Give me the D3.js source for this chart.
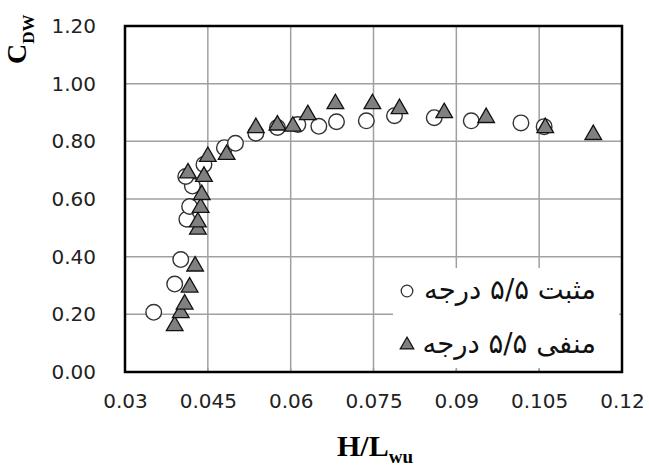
<!DOCTYPE html>
<html><head><meta charset="utf-8">
<script src="https://cdn.jsdelivr.net/npm/d3@7"></script>
<style>body{margin:0;background:#fff}svg{display:block}</style>
</head><body><svg id="c" width="649" height="466"></svg>
<script>
// ---- data ----
const xTicks = [0.03, 0.045, 0.06, 0.075, 0.09, 0.105, 0.12];
const xTickLabels = ["0.03", "0.045", "0.06", "0.075", "0.09", "0.105", "0.12"];
const yTicks = [0, 0.2, 0.4, 0.6, 0.8, 1.0, 1.2];
const yTickLabels = ["0.00", "0.20", "0.40", "0.60", "0.80", "1.00", "1.20"];

const posX = [0.0352, 0.0390, 0.0401, 0.0412, 0.0417, 0.0422, 0.0410, 0.0443, 0.0480, 0.0500, 0.0537, 0.0576, 0.0613, 0.0651, 0.0683, 0.0737, 0.0788, 0.0860, 0.0927, 0.1017, 0.1059];
const posY = [0.207, 0.305, 0.390, 0.530, 0.574, 0.645, 0.678, 0.720, 0.778, 0.793, 0.828, 0.848, 0.858, 0.852, 0.868, 0.871, 0.889, 0.882, 0.871, 0.864, 0.851];

const negX = [0.0390, 0.0401, 0.0408, 0.0417, 0.0427, 0.0432, 0.0432, 0.0437, 0.0439, 0.0443, 0.0414, 0.0450, 0.0484, 0.0537, 0.0576, 0.0604, 0.0631, 0.0681, 0.0748, 0.0797, 0.0878, 0.0954, 0.1061, 0.1148];
const negY = [0.160, 0.205, 0.235, 0.294, 0.367, 0.495, 0.520, 0.570, 0.615, 0.678, 0.690, 0.747, 0.754, 0.847, 0.856, 0.852, 0.892, 0.930, 0.930, 0.913, 0.899, 0.882, 0.847, 0.823];

const legendLabels = ["مثبت ۵/۵ درجه", "منفی ۵/۵ درجه"];

// ---- layout ----
const L = 125, R = 622, T = 26, B = 372;
const svg = d3.select("#c");
const x = d3.scaleLinear().domain([0.03, 0.12]).range([L, R]);
const y = d3.scaleLinear().domain([0, 1.2]).range([B, T]);

// gridlines
const grid = svg.append("g").attr("stroke", "#a0a0a0").attr("stroke-width", 1.5);
grid.selectAll("line.gx").data(xTicks.slice(1, -1)).join("line")
  .attr("x1", d => x(d)).attr("x2", d => x(d)).attr("y1", T).attr("y2", B);
grid.selectAll("line.gy").data(yTicks.slice(1, -1)).join("line")
  .attr("x1", L).attr("x2", R).attr("y1", d => y(d)).attr("y2", d => y(d));

// axes labels via d3 axes
const xAxis = d3.axisBottom(x).tickValues(xTicks).tickFormat((d, i) => xTickLabels[i]).tickSize(0).tickPadding(22);
const gx = svg.append("g").attr("transform", `translate(0,${B})`).call(xAxis);
gx.select(".domain").remove();
gx.selectAll("text").attr("font-family", "DejaVu Sans").attr("font-size", 20).attr("fill", "#222");

const yAxis = d3.axisLeft(y).tickValues(yTicks).tickFormat((d, i) => yTickLabels[i]).tickSize(0).tickPadding(29);
const gy = svg.append("g").attr("transform", `translate(${L},0)`).call(yAxis);
gy.select(".domain").remove();
gy.selectAll("text").attr("font-family", "DejaVu Sans").attr("font-size", 20).attr("fill", "#222");

// markers
const pos = posX.map((v, i) => [v, posY[i]]);
const neg = negX.map((v, i) => [v, negY[i]]);
svg.append("g").selectAll("circle").data(pos).join("circle")
  .attr("cx", d => x(d[0])).attr("cy", d => y(d[1])).attr("r", 7.8)
  .attr("fill", "#fff").attr("stroke", "#333").attr("stroke-width", 1.4);
const tri = d3.symbol().type(d3.symbolTriangle).size(120);
svg.append("g").selectAll("path").data(neg).join("path")
  .attr("d", tri).attr("transform", d => `translate(${x(d[0])},${y(d[1])})`)
  .attr("fill", "#808080").attr("stroke", "#111").attr("stroke-width", 1.3);

// legend
const lg = svg.append("g");
lg.append("rect").attr("x", 393).attr("y", 268).attr("width", 226).attr("height", 101).attr("fill", "#fff");
lg.append("circle").attr("cx", 407).attr("cy", 291).attr("r", 5.8).attr("fill", "#fff").attr("stroke", "#333").attr("stroke-width", 1.3);
lg.append("path").attr("d", d3.symbol().type(d3.symbolTriangle).size(80)).attr("transform", "translate(407,345)")
  .attr("fill", "#808080").attr("stroke", "#111").attr("stroke-width", 1.2);
lg.selectAll("text").data(legendLabels).join("text")
  .attr("x", 596).attr("y", (d, i) => 299 + i * 54)
  .attr("direction", "rtl").attr("text-anchor", "start")
  .attr("font-family", "DejaVu Sans").attr("font-size", 27.5).attr("fill", "#111")
  .text(d => d);

// x-axis inner ticks
svg.append("g").selectAll("line").data(xTicks.slice(1, -1)).join("line")
  .attr("x1", d => x(d)).attr("x2", d => x(d)).attr("y1", B).attr("y2", B - 4)
  .attr("stroke", "#a0a0a0").attr("stroke-width", 1.5);

// frame
svg.append("rect").attr("x", L).attr("y", T).attr("width", R - L).attr("height", B - T)
  .attr("fill", "none").attr("stroke", "#000").attr("stroke-width", 2.5);

// titles
const xt = svg.append("text").attr("x", 337).attr("y", 456)
  .attr("font-family", "Liberation Serif").attr("font-weight", "bold").attr("font-size", 30).attr("fill", "#000");
xt.append("tspan").text("H/L");
xt.append("tspan").attr("font-size", 19).attr("dy", 7).text("wu");

const yt = svg.append("text").attr("transform", "translate(26,64) rotate(-90)")
  .attr("font-family", "Liberation Serif").attr("font-weight", "bold").attr("font-size", 28).attr("fill", "#000");
yt.append("tspan").text("C");
yt.append("tspan").attr("font-size", 17).attr("dy", 8).text("DW");
</script></body></html>
